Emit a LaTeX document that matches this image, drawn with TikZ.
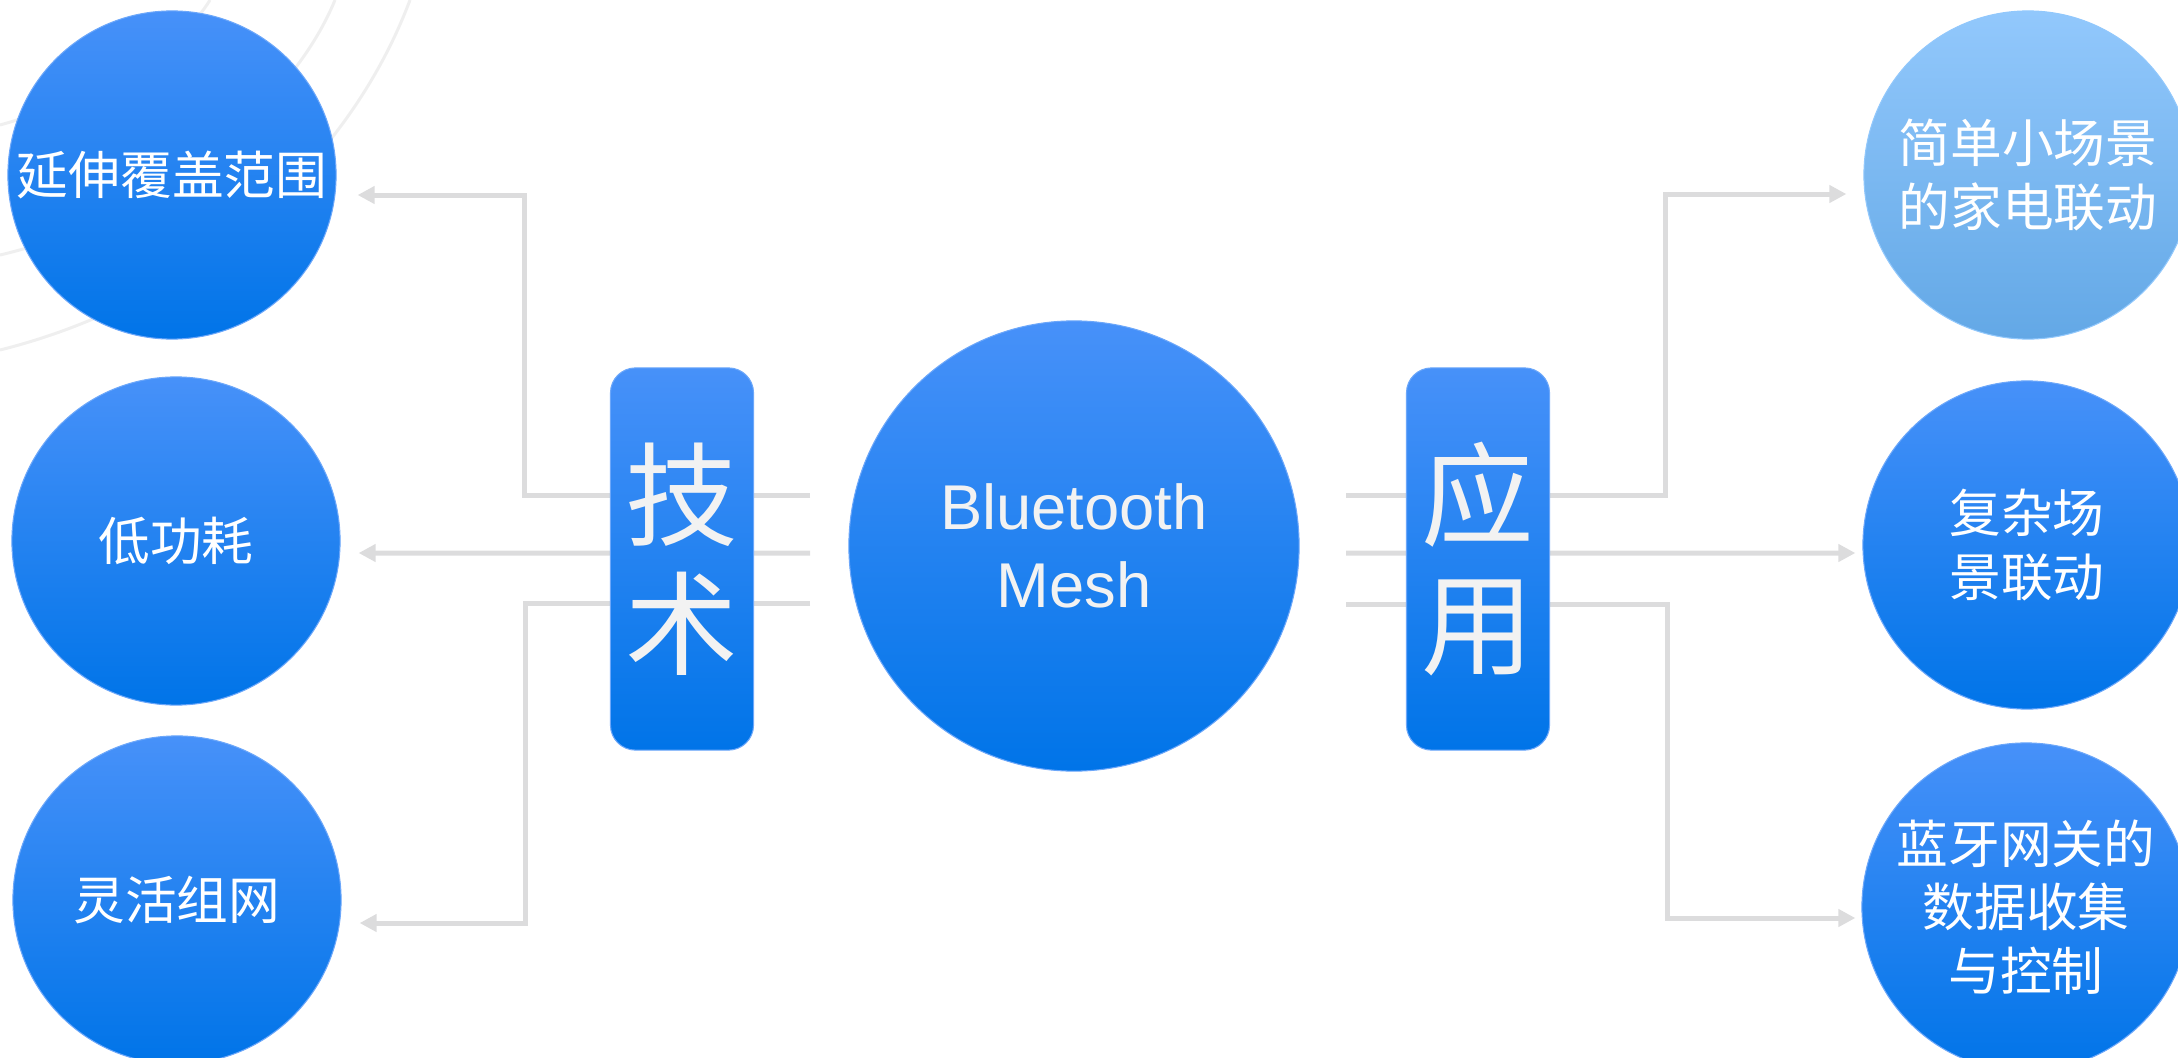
\documentclass[tikz,border=0pt]{standalone}
\usepackage{fontspec}
\setmainfont{Liberation Sans}
\newfontfamily\cjk{Noto Sans CJK SC}
\usetikzlibrary{positioning,arrows.meta}

\definecolor{linkgray}{HTML}{DCDCDD}
\definecolor{arcgray}{HTML}{EFEFEF}
\definecolor{blueTop}{HTML}{4791F9}
\definecolor{blueBot}{HTML}{0074E8}
\definecolor{skyTop}{HTML}{92C8FC}
\definecolor{skyBot}{HTML}{63A8E6}
\definecolor{softwhite}{HTML}{F2F2F2}

\tikzset{
  bubble/.style={circle, inner sep=0pt, minimum size=3.28cm,
    top color=blueTop, bottom color=blueBot, draw=blueTop!80!white, line width=0.3pt,
    text=white, align=center, font=\cjk\fontsize{14.7}{18}\selectfont},
  skybubble/.style={bubble, top color=skyTop, bottom color=skyBot, draw=skyTop},
  hub/.style={circle, inner sep=0pt, minimum size=4.5cm,
    top color=blueTop, bottom color=blueBot, draw=blueTop!80!white, line width=0.3pt,
    text=softwhite, align=center, font=\fontsize{18}{22.2}\selectfont},
  tag/.style={rectangle, rounded corners=0.25cm, inner sep=0pt,
    minimum width=1.43cm, minimum height=3.82cm,
    top color=blueTop, bottom color=blueBot, draw=blueTop!80!white, line width=0.3pt,
    text=softwhite, align=center, font=\cjk\fontsize{32}{36.7}\selectfont},
  link/.style={draw=linkgray, line width=0.05cm, -{Triangle[length=0.17cm,width=0.17cm]}}
}

\begin{document}
\begin{tikzpicture}[x=0.01cm, y=-0.01cm]
        \useasboundingbox (0,0) rectangle (2178,1057);
        % faint arcs in the back
        \draw[arcgray, line width=0.03cm] (0,350) .. controls (200,300) and (350,160) .. (410,0);
        \draw[arcgray, line width=0.03cm] (0,255) .. controls (150,220) and (290,110) .. (335,0);
        \draw[arcgray, line width=0.03cm] (0,125) .. controls (90,100) and (180,50) .. (210,0);
        % Centre
        \node[hub] (mesh) at (1074,546) {Bluetooth\\Mesh};
        % Technology side
        \node[bubble] (range) at (172,175) {延伸覆盖范围};
        \node[bubble] (power) at (176,541) {低功耗};
        \node[bubble] (flex) at (177,900) {灵活组网};
        % Application side
        \node[skybubble] (simple) at (2028,175) {简单小场景\\的家电联动};
        \node[bubble] (complex) at (2027,545) {复杂场\\景联动};
        \node[bubble] (gateway) at (2026,907) {蓝牙网关的\\数据收集\\与控制};
        % Loose ends next to the centre
        \coordinate (L1) at (810,495);
        \coordinate (L2) at (810,553);
        \coordinate (L3) at (810,603);
        \coordinate (R1) at (1346,495);
        \coordinate (R2) at (1346,553);
        \coordinate (R3) at (1346,604);
        % Edges
        \draw[link] (L1) -- ++(-286,0) |- ([xshift=0.21cm,yshift=-0.2cm]range.east);
        \draw[link] (L2) -- ([xshift=0.18cm,yshift=-0.12cm]power.east);
        \draw[link] (L3) -- ++(-285,0) |- ([xshift=0.18cm,yshift=-0.23cm]flex.east);
        \draw[link] (R1) -- ++(319,0) |- ([xshift=-0.17cm,yshift=-0.19cm]simple.west);
        \draw[link] (R2) -- ([xshift=-0.07cm,yshift=-0.08cm]complex.west);
        \draw[link] (R3) -- ++(321,0) |- ([xshift=-0.06cm,yshift=-0.11cm]gateway.west);
        % Labels on the bars
        \node[tag] (tech) at (682,559) {技\\术};
        \node[tag] (apply) at (1478,559) {应\\用};
        \end{tikzpicture}
\end{document}
